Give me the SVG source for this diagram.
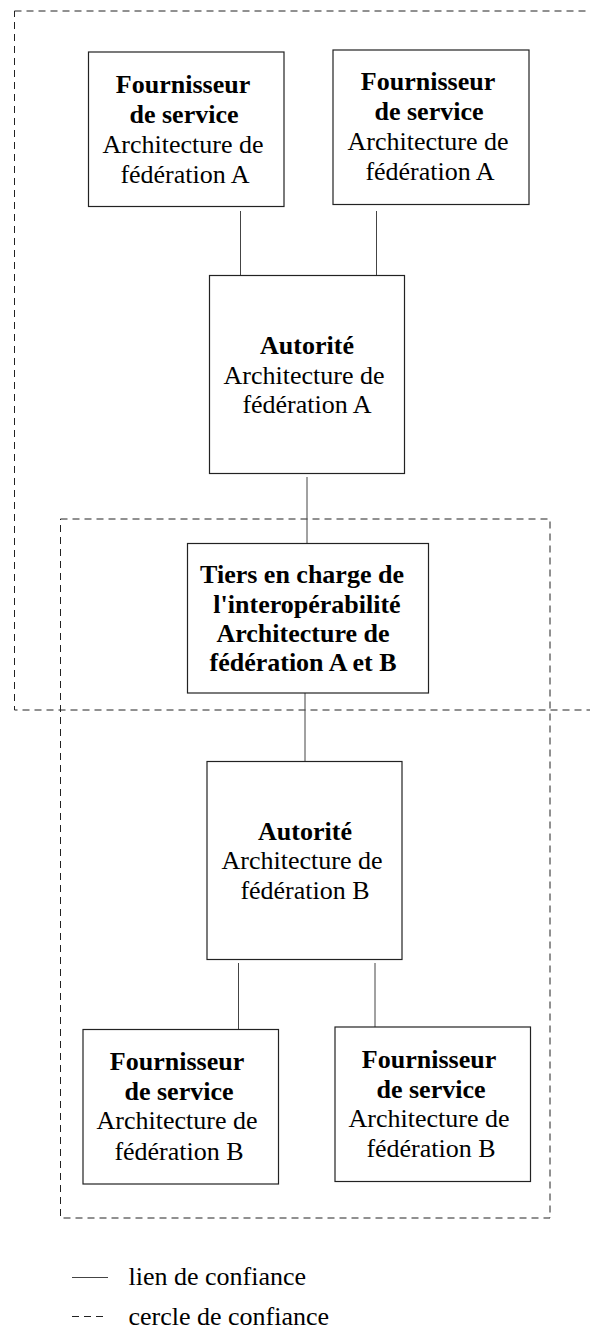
<svg xmlns="http://www.w3.org/2000/svg" width="590" height="1329" viewBox="0 0 590 1329">
<style>
.box{fill:#fff;stroke:#222;stroke-width:1.2}
.circle{fill:none;stroke:#222;stroke-width:1;stroke-dasharray:7,5}
.link{stroke:#444;stroke-width:1;fill:none}
text{font-family:"Liberation Serif","Times New Roman",serif;font-size:26px;fill:#000;text-anchor:middle}
.b{font-weight:bold}
.leg{text-anchor:start}
</style>
<rect x="0" y="0" width="590" height="1329" fill="#fff"/>
<g id="circles">
<rect class="circle" x="14.5" y="11" width="600" height="699"/>
<rect class="circle" x="60.5" y="519" width="489.5" height="699"/>
</g>
<g id="connectors">
<line class="link" x1="240.5" y1="211" x2="240.5" y2="275"/>
<line class="link" x1="376.5" y1="211" x2="376.5" y2="275"/>
<line class="link" x1="307" y1="477" x2="307" y2="543.5"/>
<line class="link" x1="305" y1="693" x2="305" y2="761"/>
<line class="link" x1="238.5" y1="963" x2="238.5" y2="1029"/>
<line class="link" x1="375" y1="963" x2="375" y2="1027"/>
</g>
<g id="sp-a1">
<rect class="box" x="88.5" y="52" width="195.5" height="154.5"/>
<text x="183" y="92.5" class="b">Fournisseur</text>
<text x="184" y="122.5" class="b">de service</text>
<text x="183" y="152.5">Architecture de</text>
<text x="185" y="182.5">fédération A</text>
</g>
<g id="sp-a2">
<rect class="box" x="333" y="50" width="196" height="154.5"/>
<text x="428" y="90" class="b">Fournisseur</text>
<text x="429" y="120" class="b">de service</text>
<text x="428" y="150">Architecture de</text>
<text x="430" y="180">fédération A</text>
</g>
<g id="autorite-a">
<rect class="box" x="209.5" y="275.5" width="195" height="198"/>
<text x="307" y="354" class="b">Autorité</text>
<text x="304" y="383.5">Architecture de</text>
<text x="307" y="412.5">fédération A</text>
</g>
<g id="tiers">
<rect class="box" x="187.5" y="543.5" width="241" height="149.5"/>
<text x="302" y="582.5" class="b">Tiers en charge de</text>
<text x="307" y="612.5" class="b">l'interopérabilité</text>
<text x="303" y="641.5" class="b">Architecture de</text>
<text x="303" y="671" class="b">fédération A et B</text>
</g>
<g id="autorite-b">
<rect class="box" x="207" y="761.5" width="195" height="198"/>
<text x="305" y="839.5" class="b">Autorité</text>
<text x="302" y="868.5">Architecture de</text>
<text x="305" y="898.5">fédération B</text>
</g>
<g id="sp-b1">
<rect class="box" x="83" y="1029.5" width="195.5" height="154.5"/>
<text x="177" y="1070" class="b">Fournisseur</text>
<text x="179" y="1100" class="b">de service</text>
<text x="177" y="1129">Architecture de</text>
<text x="179" y="1160">fédération B</text>
</g>
<g id="sp-b2">
<rect class="box" x="335" y="1027" width="195.5" height="154.5"/>
<text x="429" y="1068" class="b">Fournisseur</text>
<text x="431" y="1097.5" class="b">de service</text>
<text x="429" y="1126.5">Architecture de</text>
<text x="431" y="1157">fédération B</text>
</g>
<g id="legend">
<line class="link" x1="72" y1="1277.5" x2="108" y2="1277.5"/>
<text class="leg" x="128.5" y="1285">lien de confiance</text>
<line class="circle" x1="72" y1="1316.5" x2="106" y2="1316.5"/>
<text class="leg" x="128.5" y="1325">cercle de confiance</text>
</g>
</svg>
